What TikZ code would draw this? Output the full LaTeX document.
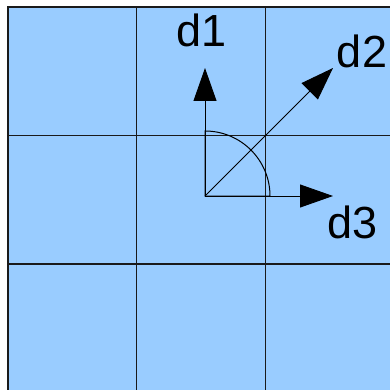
\documentclass[tikz,border=0pt]{standalone}
\usepackage{fontspec}
\setmainfont{Liberation Sans}
\usetikzlibrary{arrows.meta}
\definecolor{cellblue}{HTML}{99CCFF}
\definecolor{gridline}{HTML}{1A1A1A}
\begin{document}
\begin{tikzpicture}[x=1pt,y=-1pt,
  gridl/.style={draw=gridline,line width=1.1pt},
  dirarrow/.style={draw=black,line width=0.9pt,-{Triangle[length=33pt,width=23pt]}},
  lbl/.style={font=\fontsize{45}{54}\selectfont,anchor=base,inner sep=0pt}]
\useasboundingbox (0,0) rectangle (390,390);
\begin{scope}
\clip (0,0) rectangle (390,390);
\fill[cellblue] (8,7) rectangle (400,400);
\draw[gridl] (8,400) -- (8,7) -- (400,7);
\draw[gridl] (136.5,7) -- (136.5,400);
\draw[gridl] (265.5,7) -- (265.5,400);
\draw[gridl] (8,135.5) -- (400,135.5);
\draw[gridl] (8,264) -- (400,264);
\end{scope}
\coordinate (O) at (205,196);
\coordinate (t1) at (205,68);
\coordinate (t2) at (333,68);
\coordinate (t3) at (333,196);
\draw[dirarrow] (O) -- (t1);
\draw[dirarrow] (O) -- (t2);
\draw[dirarrow] (O) -- (t3);
\draw[line width=1pt] (205,131) arc[start angle=-90,end angle=0,radius=65] -- (O) -- cycle;
\node[lbl] (d1) at (202,46.5) {d1};
\node[lbl] (d2) at (362,67.7) {d2};
\node[lbl] (d3) at (352.5,238) {d3};
\end{tikzpicture}
\end{document}
